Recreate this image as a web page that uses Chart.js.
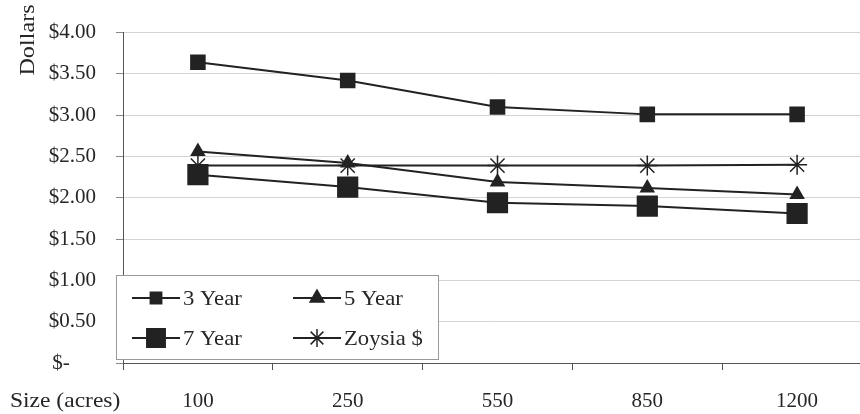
<!DOCTYPE html>
<html><head><meta charset="utf-8">
<script src="https://cdn.jsdelivr.net/npm/chart.js@4/dist/chart.umd.min.js"></script>
<style>html,body{margin:0;padding:0;background:#fff;overflow:hidden}
#c{width:860px;height:414px;display:block}</style>
</head><body><canvas id="c" width="860" height="414"></canvas>
<script>
const categories = ['100', '250', '550', '850', '1200'];
const year3 = [3.64, 3.42, 3.10, 3.01, 3.01];
const year5 = [2.56, 2.42, 2.19, 2.12, 2.04];
const year7 = [2.28, 2.13, 1.94, 1.90, 1.81];
const zoysia = [2.39, 2.39, 2.39, 2.39, 2.40];
const yTicks = [0, 0.5, 1, 1.5, 2, 2.5, 3, 3.5, 4];
const seriesNames = ['3 Year', '5 Year', '7 Year', 'Zoysia $'];
const xTitle = 'Size (acres)';
const yTitle = 'Dollars';

const INK = '#222';
const TXT = '#262626';
const FONT = '"Liberation Serif", "Times New Roman", serif';
const PLOT_RIGHT = 872; // plot area extends past the picture's right edge

function ds(label, data, style, r) {
  return { label, data, borderColor: INK, backgroundColor: INK, borderWidth: 2,
    pointStyle: style, pointRadius: r, pointHoverRadius: r, pointBorderWidth: style === 'star' ? 1.5 : 0,
    pointBorderColor: INK, pointBackgroundColor: INK, tension: 0, fill: false };
}

const widenPlugin = {
  id: 'widen',
  afterLayout(chart) {
    const x = chart.scales.x;
    const a = chart.chartArea;
    a.right = PLOT_RIGHT; a.width = a.right - a.left;
    x.right = PLOT_RIGHT; x.width = x.right - x.left;
    x.configure();
  }
};

const legendPlugin = {
  id: 'customLegend',
  afterDraw(chart) {
    const ctx = chart.ctx;
    ctx.save();
    ctx.fillStyle = TXT;
    ctx.textAlign = 'left';
    ctx.textBaseline = 'middle';
    ctx.save();
    ctx.translate(10, 401);
    ctx.scale(1.12, 1);
    ctx.font = '21px ' + FONT;
    ctx.fillText(xTitle, 0, 0);
    ctx.restore();
    ctx.save();
    ctx.translate(28, 40);
    ctx.rotate(-Math.PI / 2);
    ctx.scale(1.1, 1);
    ctx.font = '22px ' + FONT;
    ctx.textAlign = 'center';
    ctx.fillText(yTitle, 0, 0);
    ctx.restore();
    // legend box
    const bx = 116, by = 275, bw = 322, bh = 84;
    ctx.fillStyle = '#fff';
    ctx.fillRect(bx, by, bw, bh);
    ctx.strokeStyle = '#999';
    ctx.lineWidth = 1;
    ctx.strokeRect(bx + 0.5, by + 0.5, bw, bh);
    const pos = [[132, 298], [293, 298], [132, 338], [293, 338]];
    const radii = [8, 8, 13, 9];
    chart.data.datasets.forEach((d, i) => {
      const [x, y] = pos[i];
      ctx.strokeStyle = INK; ctx.lineWidth = 2;
      ctx.beginPath(); ctx.moveTo(x, y); ctx.lineTo(x + 48, y); ctx.stroke();
      ctx.fillStyle = INK; ctx.strokeStyle = INK; ctx.lineWidth = 1.5;
      Chart.helpers.drawPoint(ctx, { pointStyle: d.pointStyle, radius: radii[i], rotation: 0, borderWidth: 1.5 }, x + 24, y);
      ctx.save();
      ctx.fillStyle = TXT;
      ctx.translate(x + 51, y + 1);
      ctx.scale(1.08, 1);
      ctx.font = '21px ' + FONT;
      ctx.textAlign = 'left'; ctx.textBaseline = 'middle';
      ctx.fillText(seriesNames[i], 0, 0);
      ctx.restore();
    });
    ctx.restore();
  }
};

new Chart(document.getElementById('c'), {
  type: 'line',
  data: {
    labels: categories,
    datasets: [
      ds(seriesNames[0], year3, 'rect', 11),
      ds(seriesNames[1], year5, 'triangle', 9),
      ds(seriesNames[2], year7, 'rect', 15),
      ds(seriesNames[3], zoysia, 'star', 10)
    ]
  },
  options: {
    responsive: false,
    animation: false,
    devicePixelRatio: 1,
    layout: { padding: { top: 28, right: 0, left: 0, bottom: 0 } },
    plugins: { legend: { display: false }, tooltip: { enabled: false } },
    scales: {
      x: {
        offset: true,
        grid: { offset: true, drawOnChartArea: false, tickLength: 7, color: '#555' },
        border: { color: '#555', width: 1 },
        ticks: { color: TXT, font: { family: FONT, size: 21 }, padding: 19, maxRotation: 0 },
        afterFit(s) { s.height = 51; }
      },
      y: {
        min: 0, max: 4,
        afterBuildTicks(s) { s.ticks = yTicks.map(v => ({ value: v })); },
        grid: { color: '#d4d4d4', tickLength: 7, tickColor: '#888' },
        border: { color: '#555', width: 1 },
        ticks: { color: TXT, font: { family: FONT, size: 21 }, padding: 20,
          callback: v => v === 0 ? '$-     ' : '$' + Number(v).toFixed(2) },
        afterFit(s) { s.width = 123; }
      }
    }
  },
  plugins: [widenPlugin, legendPlugin]
});
</script></body></html>
